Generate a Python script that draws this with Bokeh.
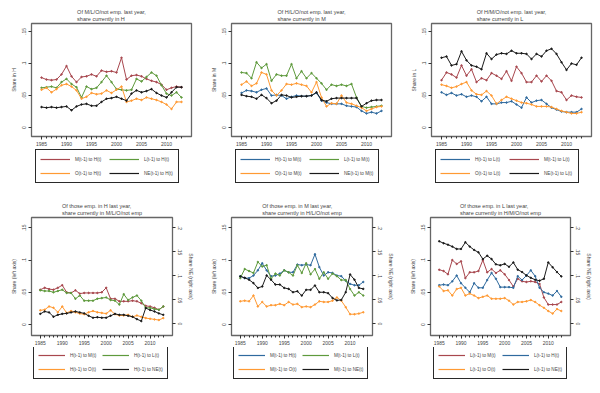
from bokeh.plotting import figure
from bokeh.models import Range1d, LinearAxis, FixedTicker, Legend, LegendItem
from bokeh.layouts import row, column
from bokeh.embed import file_html
from bokeh.resources import INLINE

years = list(range(1985, 2014))
major_years = [1985, 1990, 1995, 2000, 2005, 2010]

# --- Top row: flows INTO a group (left axis only) ---
toH_from_M = [.078,.075,.074,.075,.083,.096,.080,.071,.079,.080,.083,.080,.089,.087,.088,.086,.109,.075,.081,.082,.080,.076,.073,.071,.067,.059,.062,.064,.063]
toH_from_L = [.062,.063,.064,.062,.071,.076,.068,.063,.047,.064,.060,.062,.071,.081,.071,.060,.059,.058,.059,.076,.072,.079,.086,.081,.066,.053,.050,.055,.047]
toH_from_O = [.059,.062,.055,.060,.066,.068,.064,.058,.045,.048,.054,.052,.053,.058,.054,.059,.064,.040,.042,.045,.043,.047,.045,.043,.040,.036,.029,.040,.040]
toH_from_NE = [.032,.031,.032,.031,.032,.033,.027,.033,.036,.037,.034,.034,.040,.045,.046,.048,.045,.042,.053,.058,.055,.057,.060,.054,.050,.047,.055,.063,.063]

toM_from_H = [.054,.058,.057,.055,.059,.061,.050,.051,.050,.045,.048,.050,.049,.049,.050,.054,.042,.039,.037,.037,.037,.034,.033,.032,.026,.022,.024,.022,.026]
toM_from_L = [.086,.085,.077,.102,.093,.099,.073,.083,.081,.081,.099,.077,.088,.077,.085,.077,.069,.059,.067,.065,.067,.065,.068,.047,.033,.031,.032,.033,.034]
toM_from_O = [.067,.072,.065,.069,.086,.083,.058,.050,.058,.068,.067,.069,.067,.065,.055,.071,.047,.033,.038,.037,.050,.039,.037,.034,.031,.026,.029,.032,.033]
toM_from_NE = [.051,.049,.048,.045,.051,.046,.038,.042,.051,.050,.047,.048,.049,.049,.050,.055,.043,.041,.045,.046,.046,.046,.046,.046,.033,.038,.042,.043,.043]

toL_from_H = [.055,.051,.054,.050,.052,.048,.050,.048,.041,.048,.037,.037,.039,.039,.041,.036,.031,.047,.039,.042,.043,.037,.031,.028,.025,.024,.024,.024,.029]
toL_from_M = [.074,.086,.083,.078,.097,.081,.091,.071,.077,.074,.085,.081,.076,.088,.073,.095,.085,.071,.071,.081,.072,.081,.073,.057,.055,.043,.050,.048,.047]
toL_from_O = [.067,.065,.062,.064,.068,.071,.058,.052,.051,.057,.050,.037,.043,.048,.045,.042,.039,.038,.036,.033,.033,.033,.032,.029,.026,.024,.022,.022,.024]
toL_from_NE = [.109,.111,.097,.099,.119,.105,.097,.095,.091,.116,.107,.114,.116,.115,.120,.116,.116,.115,.107,.115,.111,.120,.123,.115,.102,.090,.100,.098,.109]

# --- Bottom row: flows OUT OF a group (black series on right axis) ---
fromH_to_M = [.054,.057,.055,.054,.057,.061,.050,.049,.053,.048,.049,.049,.049,.049,.050,.057,.040,.040,.036,.036,.036,.037,.036,.033,.029,.028,.026,.023,.028]
fromH_to_L = [.053,.052,.052,.050,.052,.054,.049,.049,.040,.045,.037,.037,.037,.040,.041,.042,.038,.037,.031,.047,.038,.042,.045,.037,.026,.026,.024,.023,.028]
fromH_to_O = [.022,.023,.028,.026,.019,.028,.018,.021,.019,.017,.016,.019,.021,.019,.018,.017,.022,.016,.014,.014,.015,.012,.014,.012,.010,.009,.008,.007,.010]
fromH_to_NE = [.021,.026,.024,.015,.019,.021,.022,.024,.026,.024,.022,.017,.013,.014,.013,.013,.017,.021,.019,.019,.017,.015,.010,.006,.033,.029,.026,.022,.019]

fromM_to_H = [.075,.072,.072,.076,.084,.095,.084,.075,.076,.079,.084,.081,.081,.093,.092,.093,.092,.109,.089,.076,.081,.080,.076,.075,.068,.063,.061,.061,.066]
fromM_to_L = [.072,.086,.083,.080,.097,.090,.092,.071,.079,.076,.084,.081,.076,.092,.080,.095,.078,.086,.071,.081,.071,.079,.075,.069,.069,.055,.045,.050,.045]
fromM_to_O = [.036,.037,.036,.045,.028,.035,.028,.030,.030,.032,.030,.035,.031,.032,.027,.028,.027,.031,.036,.035,.035,.037,.042,.037,.027,.016,.016,.017,.019]
fromM_to_NE = [.099,.096,.092,.085,.075,.078,.101,.092,.082,.082,.075,.073,.066,.068,.059,.071,.071,.080,.066,.066,.064,.054,.049,.050,.066,.103,.092,.075,.073]

fromL_to_M = [.085,.083,.078,.100,.094,.098,.072,.081,.081,.083,.100,.081,.086,.080,.084,.078,.069,.059,.071,.067,.066,.067,.066,.063,.042,.031,.031,.031,.035]
fromL_to_H = [.061,.062,.061,.067,.076,.064,.057,.050,.064,.057,.057,.069,.080,.071,.058,.058,.058,.057,.075,.069,.076,.084,.075,.057,.050,.048,.045,.052,.043]
fromL_to_O = [.059,.052,.053,.045,.055,.057,.045,.048,.045,.041,.043,.045,.040,.040,.040,.041,.037,.031,.035,.035,.036,.038,.035,.030,.026,.021,.017,.024,.021]
fromL_to_NE = [.172,.168,.165,.161,.156,.156,.170,.161,.154,.149,.135,.142,.135,.124,.122,.125,.119,.128,.113,.108,.101,.096,.092,.090,.094,.128,.118,.108,.099]

left_ticks = [0, .05, .1, .15]
left_tick_labels = ["0", ".05", ".1", ".15"]
right_ticks = [0, .05, .1, .15, .2]
right_tick_labels = ["0", ".05", ".1", ".15", ".2"]

FONT = "Liberation Sans"
RED, GREEN, ORANGE, BLUE, BLACK = "#a8474e", "#5e9a3c", "#ff9a33", "#2f6a9e", "#1a1a1a"


def style_axis(ax, labels_map, size="5px"):
    ax.major_label_text_font = FONT
    ax.major_label_text_font_size = size
    ax.axis_label_text_font = FONT
    ax.axis_label_text_font_size = size
    ax.axis_label_text_font_style = "normal"
    ax.axis_line_color = None
    ax.major_tick_out = 3
    ax.major_tick_in = 0
    ax.minor_tick_out = 2
    ax.minor_tick_in = 0
    ax.major_label_standoff = 2
    ax.axis_label_standoff = 3
    ax.major_tick_line_color = "#333333"
    ax.minor_tick_line_color = "#333333"
    if labels_map is not None:
        ax.major_label_overrides = labels_map


def panel(title, series, width, height, borders, x_range, y_range, ylabel,
          right=None, leg_height=48, leg_loc=(4, 13), glyph_w=30,
          label_w=30, pad=4, gap=4):
    bl, br, bt, bb = borders
    p = figure(width=width, height=height, output_backend="svg", toolbar_location=None,
               x_range=Range1d(*x_range), y_range=Range1d(*y_range),
               min_border_left=bl, min_border_right=br, min_border_top=bt,
               min_border_bottom=bb, background_fill_color="white",
               border_fill_color="white")
    p.grid.visible = False
    p.outline_line_color = "#666666"
    p.outline_line_width = 1.3
    p.title.text = title
    p.title.text_font = FONT
    p.title.text_font_size = "5.5px"
    p.title.text_font_style = "normal"
    p.title.align = "center"
    p.title.standoff = 3
    p.title.text_line_height = 1.15

    xa = p.xaxis[0]
    xa.ticker = FixedTicker(ticks=major_years, minor_ticks=years)
    style_axis(xa, {y: str(y) for y in major_years})
    ya = p.yaxis[0]
    ya.ticker = FixedTicker(ticks=left_ticks)
    style_axis(ya, {t: l for t, l in zip(left_ticks, left_tick_labels)})
    ya.major_label_orientation = "vertical"
    ya.axis_label = ylabel
    ya.minor_tick_out = 0

    if right is not None:
        rlabel, rrange = right
        p.extra_y_ranges = {"r": Range1d(*rrange)}
        ra = LinearAxis(y_range_name="r", axis_label=rlabel,
                        ticker=FixedTicker(ticks=right_ticks))
        style_axis(ra, {t: l for t, l in zip(right_ticks, right_tick_labels)})
        ra.major_label_orientation = "vertical"
        ra.minor_tick_out = 0
        p.add_layout(ra, "right")

    # separate axis-less canvas under the plot that holds the boxed legend
    # (its frame is aligned with the plot frame above by the column layout).
    # Its y range sits just above the data so the series stay out of view.
    lf = figure(width=width, height=leg_height, output_backend="svg", toolbar_location=None,
                x_range=Range1d(*x_range), y_range=Range1d(1, 2),
                x_axis_location=None, y_axis_location=None,
                min_border_left=0, min_border_right=0,
                min_border_top=0, min_border_bottom=0,
                background_fill_color="white", border_fill_color="white")
    lf.grid.visible = False
    lf.outline_line_color = None

    items = []
    for name, vals, color, on_right in series:
        kw = {"y_range_name": "r"} if on_right else {}
        p.line(years, vals, line_color=color, line_width=1.0, **kw)
        p.scatter(years, vals, marker="circle", size=1.5, fill_color=color,
                  line_color=color, **kw)
        d1 = lf.line(years, vals, line_color=color, line_width=1.2)
        items.append(LegendItem(label=name, renderers=[d1]))

    lg = Legend(items=items, orientation="horizontal", nrows=2, location=leg_loc,
                glyph_width=glyph_w, glyph_height=10, label_width=label_w, label_height=10,
                label_standoff=5, spacing=gap, padding=pad, margin=0,
                label_text_font=FONT, label_text_font_size="4.6px",
                border_line_color="#2a2a2a", border_line_width=1.4, border_line_alpha=1.0,
                background_fill_color="white", background_fill_alpha=1.0)
    lf.add_layout(lg, "center")
    return column(p, lf, spacing=0)


top_x = (1983, 2015)
top_y = (-0.014, 0.1625)
bot_x = (1983, 2015.1)
bot_y = (-0.017, 0.166)
bot_r = (-0.024, 0.2215)

p1 = panel("Of M/L/O/not emp. last year,\nshare currently in H",
           [("M(t-1) to H(t)", toH_from_M, RED, False),
            ("L(t-1) to H(t)", toH_from_L, GREEN, False),
            ("O(t-1) to H(t)", toH_from_O, ORANGE, False),
            ("NE(t-1) to H(t)", toH_from_NE, BLACK, False)],
           200, 148, (31, 9, 23, 12), top_x, top_y, "Share in H")
p2 = panel("Of H/L/O/not emp. last year,\nshare currently in M",
           [("H(t-1) to M(t)", toM_from_H, BLUE, False),
            ("L(t-1) to M(t)", toM_from_L, GREEN, False),
            ("O(t-1) to M(t)", toM_from_O, ORANGE, False),
            ("NE(t-1) to M(t)", toM_from_NE, BLACK, False)],
           200, 148, (31, 9, 23, 12), top_x, top_y, "Share in M")
p3 = panel("Of H/M/O/not emp. last year,\nshare currently in L",
           [("H(t-1) to L(t)", toL_from_H, BLUE, False),
            ("M(t-1) to L(t)", toL_from_M, RED, False),
            ("O(t-1) to L(t)", toL_from_O, ORANGE, False),
            ("NE(t-1) to L(t)", toL_from_NE, BLACK, False)],
           200, 148, (31, 9, 23, 12), top_x, top_y, "Share in L")

bkw = dict(right=("Share NE (right axis)", bot_r), leg_height=46,
           glyph_w=27, label_w=28, pad=4, gap=4)
p4 = panel("Of those emp. in H last year,\nshare currently in M/L/O/not emp",
           [("H(t-1) to M(t)", fromH_to_M, RED, False),
            ("H(t-1) to L(t)", fromH_to_L, GREEN, False),
            ("H(t-1) to O(t)", fromH_to_O, ORANGE, False),
            ("H(t-1) to NE(t)", fromH_to_NE, BLACK, True)],
           200, 151, (31, 28, 21, 12), bot_x, bot_y, "Share (left axis)",
           leg_loc=(2, 14), **bkw)
p5 = panel("Of those emp. in M last year,\nshare currently in H/L/O/not emp",
           [("M(t-1) to H(t)", fromM_to_H, BLUE, False),
            ("M(t-1) to L(t)", fromM_to_L, GREEN, False),
            ("M(t-1) to O(t)", fromM_to_O, ORANGE, False),
            ("M(t-1) to NE(t)", fromM_to_NE, BLACK, True)],
           200, 151, (31, 28, 21, 12), bot_x, bot_y, "Share (left axis)",
           leg_loc=(2, 14), **bkw)
p6 = panel("Of those emp. in L last year,\nshare currently in H/M/O/not emp",
           [("L(t-1) to M(t)", fromL_to_M, RED, False),
            ("L(t-1) to H(t)", fromL_to_H, BLUE, False),
            ("L(t-1) to O(t)", fromL_to_O, ORANGE, False),
            ("L(t-1) to NE(t)", fromL_to_NE, BLACK, True)],
           200, 151, (30, 30, 21, 12), bot_x, bot_y, "Share (left axis)",
           leg_loc=(3, 14), **bkw)

layout = column(row(p1, p2, p3, spacing=0), row(p4, p5, p6, spacing=0), spacing=0)

with open("out.html", "w") as f:
    f.write(file_html(layout, INLINE))
